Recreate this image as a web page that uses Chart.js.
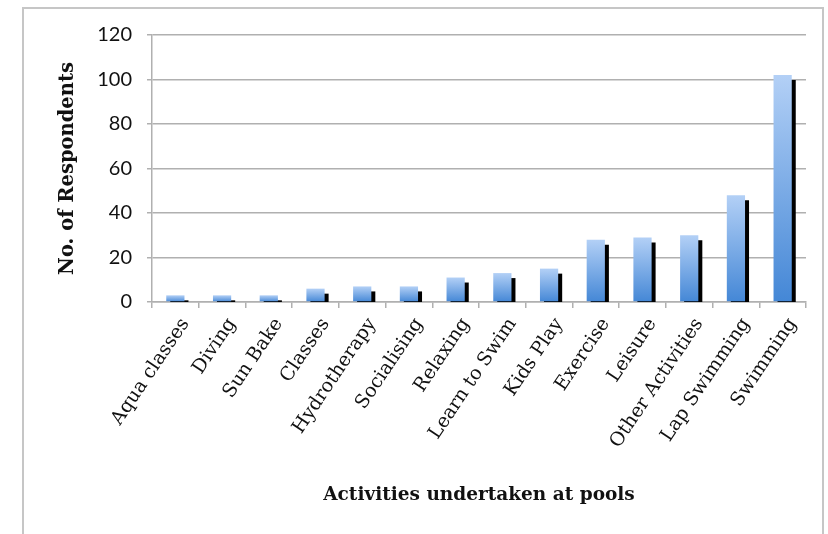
<!DOCTYPE html>
<html>
<head>
<meta charset="utf-8">
<script src="https://cdn.jsdelivr.net/npm/chart.js@4/dist/chart.umd.min.js"></script>
<style>
  html, body { margin: 0; padding: 0; background: #fff; }
  #wrap { position: relative; width: 828px; height: 534px; overflow: hidden; }
  #frame { position: absolute; left: 22px; top: 7px; width: 802px; height: 600px; border: 2px solid #c6c6c6; box-sizing: border-box; }
  canvas { position: absolute; left: 0; top: 0; }
</style>
</head>
<body>
<div id="wrap">
  <div id="frame"></div>
  <canvas id="c" width="828" height="534"></canvas>
</div>
<script>
const categories = ["Aqua classes", "Diving", "Sun Bake", "Classes", "Hydrotherapy", "Socialising", "Relaxing", "Learn to Swim", "Kids Play", "Exercise", "Leisure", "Other Activities", "Lap Swimming", "Swimming"];
const respondents = [3, 3, 3, 6, 7, 7, 11, 13, 15, 28, 29, 30, 48, 102];
const yTicks = [0, 20, 40, 60, 80, 100, 120];
const xTitle = "Activities undertaken at pools";
const yTitle = "No. of Respondents";

const shadowPlugin = {
  id: 'barShadow',
  beforeDatasetDraw(chart) {
    const ctx = chart.ctx;
    ctx.save();
    ctx.shadowColor = '#000';
    ctx.shadowBlur = 0;
    ctx.shadowOffsetX = 4;
    ctx.shadowOffsetY = 5;
  },
  afterDatasetDraw(chart) {
    chart.ctx.restore();
  }
};

function barGradient(context) {
  const chart = context.chart;
  const ys = chart.scales && chart.scales.y;
  if (!ys || !chart.chartArea) return '#6a9be0';
  const v = context.raw;
  const top = ys.getPixelForValue(v);
  const base = ys.getPixelForValue(0);
  if (!isFinite(top) || !isFinite(base) || base - top < 1) return '#6a9be0';
  const g = chart.ctx.createLinearGradient(0, top, 0, base);
  g.addColorStop(0, '#b3d0f6');
  g.addColorStop(1, '#4487d6');
  return g;
}

new Chart(document.getElementById('c'), {
  type: 'bar',
  data: {
    labels: categories,
    datasets: [{
      data: respondents,
      backgroundColor: barGradient,
      borderWidth: 0,
      categoryPercentage: 1,
      barPercentage: 0.39,
      clip: 0
    }]
  },
  plugins: [shadowPlugin],
  options: {
    responsive: false,
    animation: false,
    events: [],
    layout: { padding: { left: 55, right: 22, top: 35, bottom: 28 } },
    plugins: { legend: { display: false }, tooltip: { enabled: false } },
    scales: {
      x: {
        grid: { display: true, drawOnChartArea: false, drawTicks: true, tickLength: 6, color: '#b0b0b0', lineWidth: 1.5, offset: true },
        border: { display: true, color: '#b0b0b0', width: 1.5 },
        ticks: {
          maxRotation: 56, minRotation: 56, autoSkip: false, padding: 6,
          labelOffset: 10,
          color: '#111',
          font: { family: 'DejaVu Serif', size: 19 }
        },
        title: {
          display: true, text: xTitle, color: '#111',
          font: { family: 'DejaVu Serif', size: 18.5, weight: 'bold' },
          padding: 0
        },
        afterFit(scale) { scale.height = 204; }
      },
      y: {
        min: 0, max: 120,
        afterBuildTicks(scale) { scale.ticks = yTicks.map(v => ({ value: v })); },
        grid: { color: '#b0b0b0', lineWidth: 1.5, drawTicks: true, tickLength: 5 },
        border: { display: true, color: '#b0b0b0', width: 1.5 },
        ticks: {
          padding: 15, color: '#111',
          font: { family: 'Lato', size: 20 }
        },
        title: {
          display: true, text: yTitle, color: '#111',
          font: { family: 'DejaVu Serif', size: 19.5, weight: 'bold' },
          padding: { top: 1, bottom: 0 }
        },
        afterFit(scale) { scale.width = 152 - 55; }
      }
    }
  }
});
</script>
</body>
</html>
